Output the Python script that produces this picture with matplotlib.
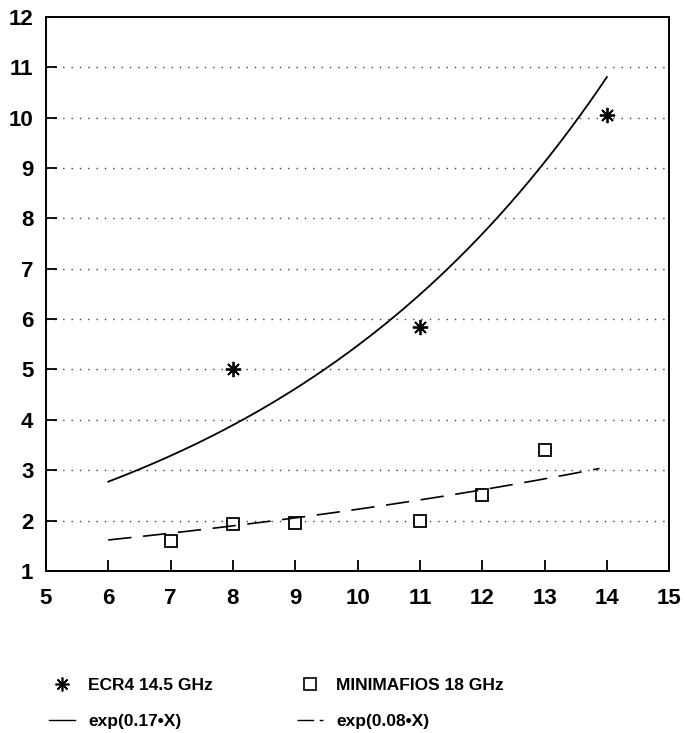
import numpy as np
import matplotlib
matplotlib.use("Agg")
from matplotlib import pyplot as plt
from matplotlib.lines import Line2D

plt.rcParams['font.family'] = ['Liberation Sans', 'DejaVu Sans']
plt.rcParams['font.weight'] = 'bold'

# measured points
ecr4_x = [8, 11, 14]
ecr4_y = [5.0, 5.85, 10.05]
mini_x = [7, 8, 9, 11, 12, 13]
mini_y = [1.6, 1.93, 1.95, 2.0, 2.5, 3.4]

# exponential fits exp(k*X) over 6..14
k_ecr4 = 0.17
k_mini = 0.08
fit_x_start = 6
fit_x_stop = 14

x_ticks = list(range(5, 16))
y_ticks = list(range(1, 13))

fig = plt.figure(figsize=(6.85, 7.33), dpi=100)
ax = fig.add_axes([0.067, 0.221, 0.910, 0.756])

fx = np.linspace(fit_x_start, fit_x_stop, 200)
star = (8, 2, 0)
ax.plot(ecr4_x, ecr4_y, linestyle="none", marker=star, markersize=11,
        markeredgewidth=1.3, color="black")
ax.plot(fx, np.exp(k_ecr4 * fx), color="black", linewidth=1.3)
ax.plot(mini_x, mini_y, linestyle="none", marker="s", markersize=9,
        markerfacecolor="white", markeredgewidth=1.3, color="black")
ax.plot(fx[:-3], np.exp(k_mini * fx[:-3]), color="black", linewidth=1.2, dashes=(14, 7))

for y in y_ticks[1:-1]:
    ax.axhline(y, color="0.25", linewidth=1.0, linestyle=(0, (1, 5)), zorder=0)

ax.set_xlim(5, 15)
ax.set_ylim(1, 12)
ax.set_xticks(x_ticks)
ax.set_yticks(y_ticks)
ax.tick_params(direction="in", length=8, width=1.3, labelsize=16)
ax.tick_params(axis="x", pad=12)
ax.tick_params(axis="y", pad=9)
for s in ax.spines.values():
    s.set_linewidth(1.4)

# legend keys (column order: left column first)
handles = [
    Line2D([], [], linestyle="none", marker=star, markersize=10, markeredgewidth=1.2, color="black"),
    Line2D([], [], color="black", linewidth=1.0),
    Line2D([], [], linestyle="none", marker="s", markersize=8, markerfacecolor="white",
           markeredgewidth=1.2, color="black"),
    Line2D([], [], color="black", linewidth=1.0, dashes=(12, 4)),
]
labels = ["ECR4 14.5 GHz", "exp(0.17\u2022X)", "MINIMAFIOS 18 GHz", "exp(0.08\u2022X)"]
fig.legend(handles, labels, ncol=2, loc="upper left", bbox_to_anchor=(0.048, 0.097),
           frameon=False, fontsize=12.5, handlelength=1.55, handletextpad=0.75,
           columnspacing=4.8, labelspacing=1.2)

plt.savefig("out.png", dpi=100)
